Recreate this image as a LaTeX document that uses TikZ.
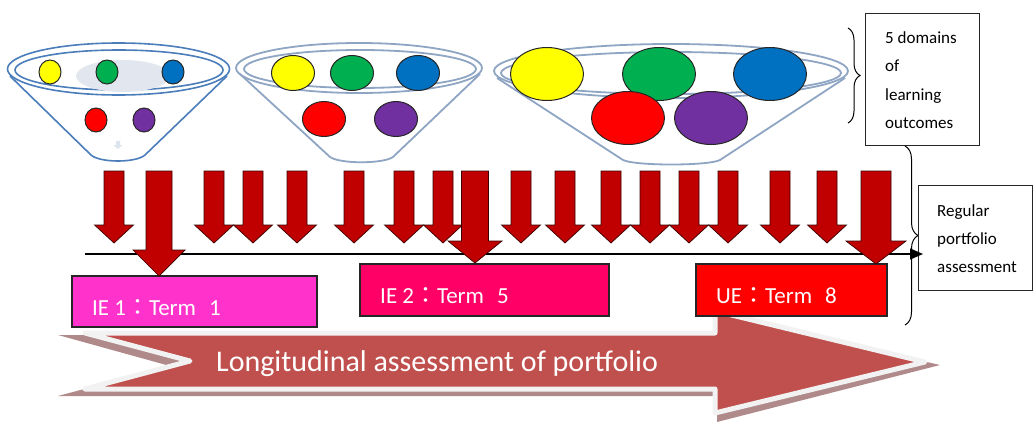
\documentclass[tikz,border=0pt]{standalone}
\usepackage{fontspec}
\setmainfont{Carlito}
\newfontfamily\cjk{Noto Sans CJK TC}
\usetikzlibrary{arrows.meta,decorations.pathreplacing}
\definecolor{cyel}{HTML}{FFFF00}
\definecolor{cgrn}{HTML}{00B050}
\definecolor{cblu}{HTML}{0070C0}
\definecolor{cred}{HTML}{FF0000}
\definecolor{cpur}{HTML}{7030A0}
\definecolor{bowlA}{HTML}{4A7DBA}
\definecolor{bowlB}{HTML}{8FA5C4}
\definecolor{darr}{HTML}{C00000}
\definecolor{darrb}{HTML}{3A0000}
\definecolor{bigar}{HTML}{C0504D}
\definecolor{bigsh}{HTML}{B08A8A}
\definecolor{bigbd}{HTML}{F2F2F2}
\definecolor{ieone}{HTML}{FF33CC}
\definecolor{ietwo}{HTML}{FF0066}
\definecolor{ueclr}{HTML}{FF0000}
\definecolor{hilite}{HTML}{E2E7EF}
\begin{document}
\begin{tikzpicture}[x=1pt,y=-1pt,
  ball/.style={draw=black!85, line width=1pt},
  bowlone/.style={draw=bowlA, line width=1.6pt, line join=round},
  bowltwo/.style={draw=bowlB, line width=1.8pt, line join=round},
  redarrow/.style={fill=darr, draw=darrb, line width=0.7pt},
  termbox/.style={draw=black!85, line width=1.2pt, inner sep=0pt},
  termtext/.style={anchor=base west, text=white, inner sep=0pt, font=\fontsize{23}{23}\selectfont},
  notebox/.style={draw=black!85, line width=1pt, inner sep=0pt},
  notetext/.style={anchor=base west, inner sep=0pt, font=\fontsize{17}{17}\selectfont},
  bracestyle/.style={draw=black, line width=1pt, decorate}]
\useasboundingbox (0,0) rectangle (1033,423);
\fill[white] (0,0) rectangle (1033,423);

% ---------- Bowl 1 ----------
\draw[bowlone, fill=white] (10,76) -- (91,155) .. controls (100,163) and (136,163) .. (145,155) -- (227,76);
\draw[bowlone] (118.5,69) ellipse [x radius=111, y radius=26];
\draw[bowlone] (119,70) ellipse [x radius=104, y radius=20];
\fill[hilite] (123,76) ellipse [x radius=47, y radius=16];
\fill[hilite!80!bowlA!60] (116,141) -- (120,141) -- (120,145) -- (122.5,145) -- (118,149) -- (113.5,145) -- (116,145) -- cycle;
\foreach \px/\py/\c in {50/72/cyel, 107/72/cgrn, 173/72/cblu, 96/120/cred, 144/120/cpur}
  \draw[ball, fill=\c] (\px,\py) ellipse [x radius=11, y radius=12];

% ---------- Bowl 2 ----------
\draw[bowltwo, fill=white] (240,74) -- (330,157) .. controls (340,164) and (383,164) .. (393,157) -- (480,74);
\draw[bowltwo] (359,68) ellipse [x radius=123, y radius=25];
\draw[bowltwo] (360,69) ellipse [x radius=116, y radius=19];
\foreach \px/\py/\c in {293/73/cyel, 352/73/cgrn, 418/73/cblu, 324/119/cred, 396/119/cpur}
  \draw[ball, fill=\c] (\px,\py) ellipse [x radius=21.5, y radius=17.5];

% ---------- Bowl 3 ----------
\draw[bowltwo, fill=white] (497,78) -- (623,160) .. controls (635,166) and (708,166) .. (720,160) -- (845,78);
\draw[bowltwo] (671,71) ellipse [x radius=177, y radius=27];
\draw[bowltwo] (671,73) ellipse [x radius=170, y radius=21];
\foreach \px/\py/\c in {547/74/cyel, 659/74/cgrn, 770/74/cblu, 628/118/cred, 711/118/cpur}
  \draw[ball, fill=\c] (\px,\py) ellipse [x radius=36.5, y radius=26.5];

% ---------- Note boxes and braces ----------
\draw[bracestyle, decoration={brace, amplitude=12pt}] (848,28) -- (848,123);
\node[notebox, minimum width=114pt, minimum height=132pt] (domains) at (922,79) {};
\node[notetext] (d1) at (885,43) {5 domains};
\node[notetext] (d2) at (885,71) {of};
\node[notetext] (d3) at (885,100) {learning};
\node[notetext] (d4) at (885,128) {outcomes};

\draw[bracestyle, decoration={brace, amplitude=13pt}] (905,146) -- (905,325);
\node[notebox, minimum width=114pt, minimum height=105pt] (regular) at (975,237.5) {};
\node[notetext] (r1) at (937,216) {Regular};
\node[notetext] (r2) at (937,244) {portfolio};
\node[notetext] (r3) at (937,272) {assessment};

% ---------- Longitudinal arrow ----------
\fill[bigsh] (58,335) -- (713,335) -- (713,313) -- (940,365) -- (717,422) -- (717,396) -- (58,396) -- (170,366) -- cycle;
\draw[draw=bigbd, fill=bigar, line width=5pt, line join=round]
  (85,333) -- (715,333) -- (715,311) -- (925,362) -- (715,413) -- (715,389) -- (85,389) -- (190,361) -- cycle;
\node[anchor=base west, text=white, inner sep=0pt, font=\fontsize{30}{30}\selectfont] (longlabel) at (216,371) {Longitudinal assessment of portfolio};

% ---------- Timeline ----------
\coordinate (tstart) at (85,254);
\coordinate (tend) at (923,254);
\draw[line width=1.3pt, -{Triangle[length=13pt,width=11pt]}] (tstart) -- (tend);

% ---------- Term boxes ----------
\node[termbox, fill=ieone, minimum width=245pt, minimum height=51pt] (ie1) at (194.5,301.5) {};
\node[termtext] (ie1t) at (92,315) {IE 1{\cjk ：}Term\hspace{13pt}1};
\node[termbox, fill=ietwo, minimum width=249pt, minimum height=52pt] (ie2) at (484.5,290) {};
\node[termtext] (ie2t) at (380,303) {IE 2{\cjk ：}Term\hspace{13pt}5};
\node[termbox, fill=ueclr, minimum width=191pt, minimum height=52pt] (ue) at (791.5,290) {};
\node[termtext] (uet) at (716,303) {UE{\cjk ：}Term\hspace{13pt}8};

% ---------- Red down arrows ----------
\foreach \ax in {114,214,253,297,354,404,443,521,565,611,650,689,728,780,827}
  \draw[redarrow] (\ax-10,171) -- (\ax+10,171) -- (\ax+10,225) -- (\ax+19.5,225) -- (\ax,243) -- (\ax-19.5,225) -- (\ax-10,225) -- cycle;
\foreach \ax/\sw/\hb/\hw/\tp in {159/13/250/26/276, 475/13.5/241/27/263, 876/15/241/30/264}
  \draw[redarrow] (\ax-\sw,171) -- (\ax+\sw,171) -- (\ax+\sw,\hb) -- (\ax+\hw,\hb) -- (\ax,\tp) -- (\ax-\hw,\hb) -- (\ax-\sw,\hb) -- cycle;
\end{tikzpicture}
\end{document}
